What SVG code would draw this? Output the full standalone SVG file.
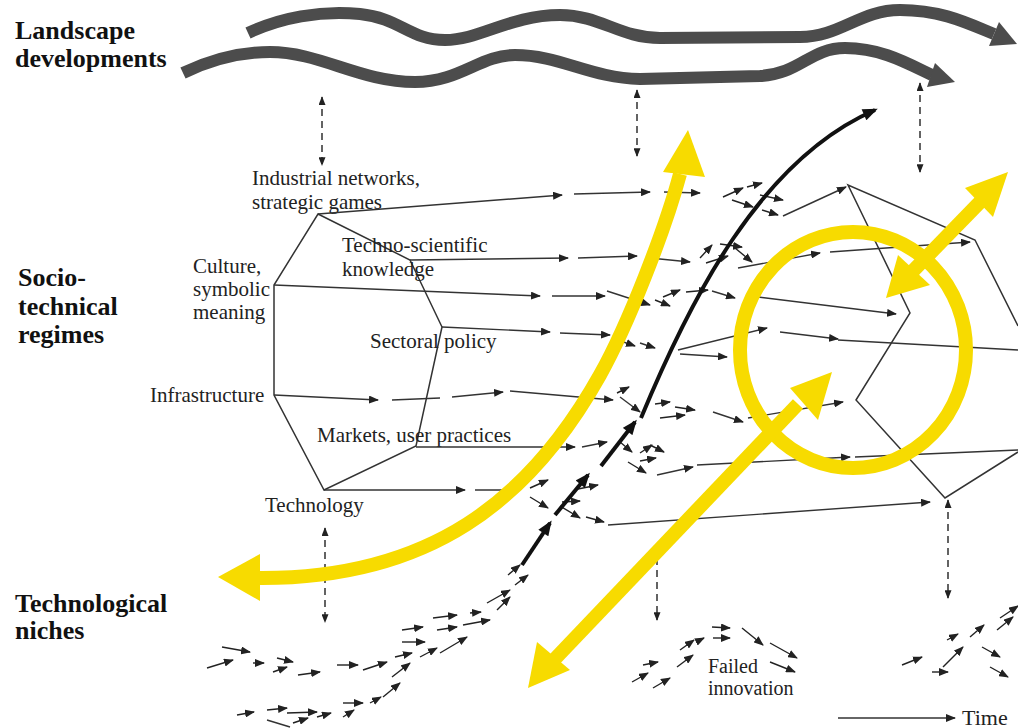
<svg xmlns="http://www.w3.org/2000/svg" width="1018" height="728" viewBox="0 0 1018 728">
<defs>
<marker id="a" viewBox="0 0 10 8" refX="9" refY="4" markerWidth="10" markerHeight="8" markerUnits="userSpaceOnUse" orient="auto"><path d="M0,0 L10,4 L0,8 z" fill="#222"/></marker>
<marker id="d" viewBox="0 0 10 8" refX="9" refY="4" markerWidth="9" markerHeight="7" markerUnits="userSpaceOnUse" orient="auto-start-reverse"><path d="M0,0 L10,4 L0,8 z" fill="#222"/></marker>
<marker id="b" viewBox="0 0 10 8" refX="8" refY="4" markerWidth="16" markerHeight="12" markerUnits="userSpaceOnUse" orient="auto"><path d="M0,0 L10,4 L0,8 z" fill="#111"/></marker>
<style>
.lab{font-family:"Liberation Serif","Times New Roman",serif;font-size:21px;fill:#222}
.big{font-family:"Liberation Serif","Times New Roman",serif;font-size:26px;font-weight:bold;fill:#111}
.wave{fill:none;stroke:#4c4c4c;stroke-width:12;stroke-linecap:butt}
.poly{fill:none;stroke:#333;stroke-width:1.5;stroke-linejoin:miter}
.l{fill:none;stroke:#333;stroke-width:1.4;marker-end:url(#a)}
.n{fill:none;stroke:#333;stroke-width:1.4}
.s{fill:none;stroke:#222;stroke-width:1.4;marker-end:url(#a)}
.dv{fill:none;stroke:#222;stroke-width:1.4;stroke-dasharray:7 5;marker-start:url(#d);marker-end:url(#d)}
.dd{fill:none;stroke:#222;stroke-width:1.4;stroke-dasharray:7 5;marker-end:url(#d)}
.thick{fill:none;stroke:#111;stroke-width:4;marker-end:url(#b)}
.y{fill:none;stroke:#F7DB00;stroke-width:14}
.yh{fill:#F7DB00}
</style>
</defs>
<rect width="1018" height="728" fill="#fff"/>

<g id="level-labels">
<text class="big" x="15" y="39">Landscape</text>
<text class="big" x="15" y="67">developments</text>
<text class="big" x="18" y="286">Socio-</text>
<text class="big" x="18" y="315">technical</text>
<text class="big" x="18" y="343">regimes</text>
<text class="big" x="15" y="612">Technological</text>
<text class="big" x="15" y="639">niches</text>
</g>

<g id="landscape">
<path class="wave" d="M248 33 C280 18,320 10,360 14 C400 18,410 40,445 40 C480 40,510 15,560 15 C600 15,620 38,660 38 L800 37 C840 37,860 10,900 10 C940 10,965 22,994 34"/>
<polygon fill="#4c4c4c" points="1017,44 989,46 999,22"/>
<path class="wave" d="M183 73 C210 60,240 52,270 52 C320 52,360 82,415 82 C460 82,480 55,515 55 C560 55,590 78,640 79 L760 76 C800 74,810 48,845 48 C880 48,905 62,932 75"/>
<polygon fill="#4c4c4c" points="955,82 927,87 935,63"/>
</g>

<g id="regime-left">
<polygon class="poly" points="318,214 410,260 442,327 416,446 324,490 274,395 274,285"/>
<text class="lab" x="252" y="185">Industrial networks,</text>
<text class="lab" x="252" y="209">strategic games</text>
<text class="lab" x="342" y="252">Techno-scientific</text>
<text class="lab" x="342" y="276">knowledge</text>
<text class="lab" x="193" y="273">Culture,</text>
<text class="lab" x="193" y="296">symbolic</text>
<text class="lab" x="193" y="319">meaning</text>
<text class="lab" x="370" y="348">Sectoral policy</text>
<text class="lab" x="150" y="402">Infrastructure</text>
<text class="lab" x="317" y="442">Markets, user practices</text>
<text class="lab" x="265" y="512">Technology</text>
</g>

<g id="regime-right">
<polyline class="poly" points="1018,326 975,240 848,185 910,313 856,400 945,498 1018,452"/>
</g>

<g id="connectors">
<!-- landscape-regime-niche interactions -->
<path class="dv" d="M322 97 V165"/>
<path class="dv" d="M637 90 V156"/>
<path class="dv" d="M920 83 V172"/>
<path class="dv" d="M325 528 V622"/>
<path class="dd" d="M657 558 V620"/>
<path class="dv" d="M948 500 V598"/>

<!-- line 1 -->
<path class="l" d="M318 214 L562 195"/>
<path class="l" d="M574 194 L650 192"/>
<path class="l" d="M664 192 L700 193"/>
<path class="s" d="M723 197 L743 188"/>
<path class="s" d="M747 187 L762 183"/>
<path class="s" d="M732 200 L753 207"/>
<path class="s" d="M760 195 L783 200"/>
<path class="s" d="M762 210 L778 215"/>
<path class="l" d="M783 216 L846 187"/>
<!-- line 2 -->
<path class="l" d="M410 260 L568 258"/>
<path class="l" d="M578 258 L637 256"/>
<path class="l" d="M650 258 L690 262"/>
<path class="s" d="M700 258 L712 245"/>
<path class="s" d="M720 244 L742 247"/>
<path class="s" d="M706 263 L728 256"/>
<path class="s" d="M735 248 L752 262"/>
<path class="l" d="M738 268 L820 253"/>
<path class="l" d="M830 252 L970 242"/>
<!-- line 3 -->
<path class="l" d="M274 285 L540 296"/>
<path class="l" d="M552 296 L605 296"/>
<path class="l" d="M607 291 L650 305"/>
<path class="s" d="M655 300 L670 306"/>
<path class="s" d="M663 297 L680 290"/>
<path class="s" d="M686 292 L708 290"/>
<path class="l" d="M712 291 L735 298"/>
<path class="l" d="M758 297 L896 314"/>
<!-- line 4 -->
<path class="l" d="M442 327 L550 332"/>
<path class="l" d="M560 333 L610 335"/>
<path class="l" d="M612 338 L635 346"/>
<path class="l" d="M640 343 L655 348"/>
<path class="l" d="M678 350 L767 328"/>
<path class="l" d="M680 354 L727 357"/>
<path class="l" d="M780 332 L838 339"/>
<path class="n" d="M838 340 L1018 350"/>
<!-- line 5 -->
<path class="l" d="M274 395 L378 400"/>
<path class="n" d="M392 400 L440 398"/>
<path class="l" d="M452 397 L503 392"/>
<path class="l" d="M510 391 L613 400"/>
<path class="s" d="M617 393 L629 387"/>
<path class="l" d="M620 397 L640 412"/>
<path class="s" d="M655 404 L670 402"/>
<path class="s" d="M675 407 L695 410"/>
<path class="s" d="M660 418 L685 415"/>
<path class="l" d="M713 412 L743 422"/>
<path class="l" d="M748 418 L843 402"/>
<!-- line 6 -->
<path class="l" d="M416 447 L575 447"/>
<path class="l" d="M582 447 L607 442"/>
<path class="s" d="M620 442 L632 452"/>
<path class="s" d="M640 453 L652 445"/>
<path class="s" d="M640 461 L656 458"/>
<path class="s" d="M628 462 L646 473"/>
<path class="s" d="M650 445 L664 452"/>
<path class="l" d="M657 475 L693 467"/>
<path class="l" d="M697 465 L850 457"/>
<path class="n" d="M855 457 L1018 450"/>
<!-- line 7 -->
<path class="l" d="M324 490 L465 490"/>
<path class="l" d="M475 490 L517 490"/>
<path class="s" d="M530 488 L548 480"/>
<path class="s" d="M530 497 L548 508"/>
<path class="s" d="M562 502 L580 501"/>
<path class="s" d="M578 489 L598 485"/>
<path class="s" d="M560 506 L580 518"/>
<path class="s" d="M586 517 L604 522"/>
<path class="l" d="M608 525 L930 502"/>

<!-- niche arrows, successful trajectory -->
<path class="s" d="M207 668 L233 660"/>
<path class="s" d="M222 647 L250 652"/>
<path class="s" d="M253 663 L264 663"/>
<path class="s" d="M277 658 L293 662"/>
<path class="s" d="M273 672 L287 667"/>
<path class="s" d="M298 675 L320 672"/>
<path class="s" d="M337 665 L358 665"/>
<path class="s" d="M363 670 L387 662"/>
<path class="s" d="M392 677 L410 663"/>
<path class="s" d="M395 657 L412 653"/>
<path class="s" d="M402 630 L423 627"/>
<path class="s" d="M402 642 L425 642"/>
<path class="s" d="M420 657 L437 648"/>
<path class="s" d="M433 618 L457 615"/>
<path class="s" d="M437 630 L457 627"/>
<path class="s" d="M440 653 L467 637"/>
<path class="s" d="M463 625 L490 620"/>
<path class="s" d="M470 613 L481 612"/>
<path class="s" d="M487 603 L510 590"/>
<path class="s" d="M497 610 L510 597"/>
<path class="s" d="M508 575 L520 565"/>
<path class="s" d="M515 585 L528 575"/>
<path class="s" d="M237 715 L254 712"/>
<path class="s" d="M267 710 L287 708"/>
<path class="s" d="M287 713 L317 712"/>
<path class="n" d="M267 720 L290 727"/>
<path class="s" d="M293 723 L308 718"/>
<path class="s" d="M317 717 L331 713"/>
<path class="s" d="M343 717 L354 710"/>
<path class="s" d="M343 703 L363 703"/>
<path class="s" d="M370 703 L381 697"/>
<path class="s" d="M383 697 L400 683"/>

<!-- failed innovation -->
<path class="s" d="M632 682 L648 673"/>
<path class="s" d="M643 665 L658 662"/>
<path class="s" d="M653 688 L670 678"/>
<path class="s" d="M677 667 L693 655"/>
<path class="s" d="M680 650 L694 640"/>
<path class="s" d="M696 642 L704 638"/>
<path class="s" d="M712 627 L730 628"/>
<path class="s" d="M713 638 L730 638"/>
<path class="s" d="M742 628 L763 645"/>
<path class="s" d="M770 643 L797 658"/>
<path class="s" d="M770 662 L795 672"/>

<!-- right niche cluster -->
<path class="s" d="M902 665 L922 657"/>
<path class="s" d="M932 672 L948 672"/>
<path class="s" d="M943 667 L963 647"/>
<path class="s" d="M947 640 L958 634"/>
<path class="s" d="M970 637 L984 625"/>
<path class="s" d="M997 630 L1013 617"/>
<path class="s" d="M1000 618 L1018 606"/>
<path class="s" d="M982 647 L1000 657"/>
<path class="s" d="M990 667 L1008 677"/>

<!-- breakthrough trajectory -->
<path class="thick" d="M522 565 L550 523"/>
<path class="thick" d="M555 515 L588 475"/>
<path class="thick" d="M601 466 L635 422"/>
<path class="thick" d="M641 418 C690 300,760 160,875 110"/>

<!-- time -->
<path class="l" d="M838 718 L955 718"/>
</g>

<g id="annotations">
<text class="lab" x="708" y="673" style="font-size:20px">Failed</text>
<text class="lab" x="708" y="695" style="font-size:20px">innovation</text>
<text class="lab" x="962" y="725" style="font-size:22px">Time</text>
</g>

<g id="highlights">
<ellipse class="y" cx="853" cy="350" rx="113" ry="118"/>
<path class="y" d="M256 578 C430 580,530 500,600 375 C628 325,665 230,680 174"/>
<polygon class="yh" points="218,577 260,554 260,601"/>
<polygon class="yh" points="688,130 663,172 705,177"/>
<path class="y" d="M552 662 L798 404"/>
<polygon class="yh" points="528,688 537,642 570,670"/>
<polygon class="yh" points="832,372 790,388 818,420"/>
<path class="y" d="M910 274 L982 200"/>
<polygon class="yh" points="886,298 898,255 930,285"/>
<polygon class="yh" points="1008,172 965,188 993,217"/>
</g>
</svg>
